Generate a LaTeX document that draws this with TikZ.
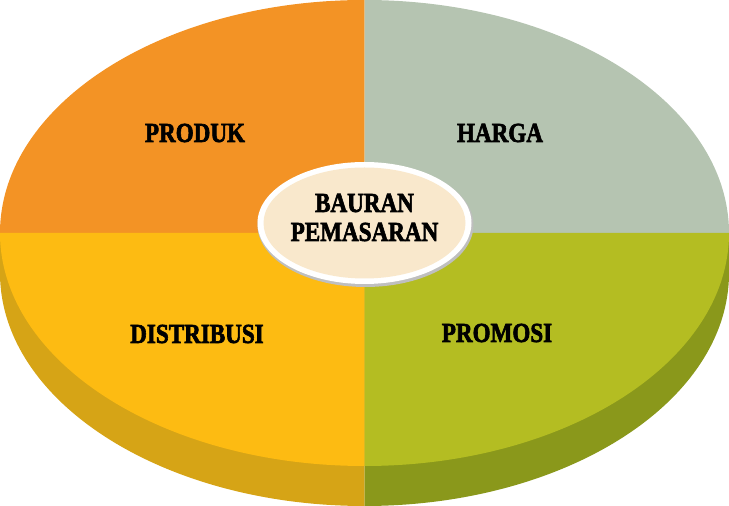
\documentclass[tikz,border=0pt]{standalone}
\usepackage{fontspec}
\setmainfont{Liberation Serif}[BoldFeatures={FakeBold=2.5}]
\definecolor{cOrange}{HTML}{F39325}
\definecolor{cSage}{HTML}{B5C4B1}
\definecolor{cYellow}{HTML}{FDBB12}
\definecolor{cOlive}{HTML}{B4BD22}
\definecolor{cYellowDk}{HTML}{D6A416}
\definecolor{cOliveDk}{HTML}{8A981B}
\definecolor{cCream}{HTML}{F9E8CC}
\newcommand{\lbltext}[1]{\scalebox{0.84}[1]{#1}}
\tikzset{lbl/.style={font=\fontsize{27.5}{30}\selectfont\bfseries, text=black, align=center, inner sep=0pt}}
\begin{document}
\begin{tikzpicture}[x=1pt,y=1pt]
\useasboundingbox (0,0) rectangle (729,506);
% side (depth)
\fill[cYellowDk] (0,273) -- (0,233) arc[start angle=180,end angle=270,x radius=364.5,y radius=233] -- (364.5,273) -- cycle;
\fill[cOliveDk] (729,273) -- (729,233) arc[start angle=0,end angle=-90,x radius=364.5,y radius=233] -- (364.5,273) -- cycle;
% top face quadrants
\fill[cOrange] (364.5,273) -- (0,273) arc[start angle=180,end angle=90,x radius=364.5,y radius=233] -- cycle;
\fill[cSage] (364.5,273) -- (729,273) arc[start angle=0,end angle=90,x radius=364.5,y radius=233] -- cycle;
\fill[cYellow] (364.5,273) -- (0,273) arc[start angle=180,end angle=270,x radius=364.5,y radius=233] -- cycle;
\fill[cOlive] (364.5,273) -- (729,273) arc[start angle=0,end angle=-90,x radius=364.5,y radius=233] -- cycle;
% centre ellipse
\fill[black!25] (365.5,281) ellipse[x radius=108, y radius=62];
\fill[white] (364.5,283) ellipse[x radius=107, y radius=61];
\fill[cCream] (364.5,283) ellipse[x radius=101, y radius=55.5];
% labels
\node[lbl] (produk) at (195,373) {\lbltext{PRODUK}};
\node[lbl] (harga) at (500,373) {\lbltext{HARGA}};
\node[lbl] (distribusi) at (197,172) {\lbltext{DISTRIBUSI}};
\node[lbl] (promosi) at (497,173) {\lbltext{PROMOSI}};
\node[lbl] (bauran) at (364.5,303) {\lbltext{BAURAN}};
\node[lbl] (pemasaran) at (364.5,274) {\lbltext{PEMASARAN}};
\end{tikzpicture}
\end{document}
